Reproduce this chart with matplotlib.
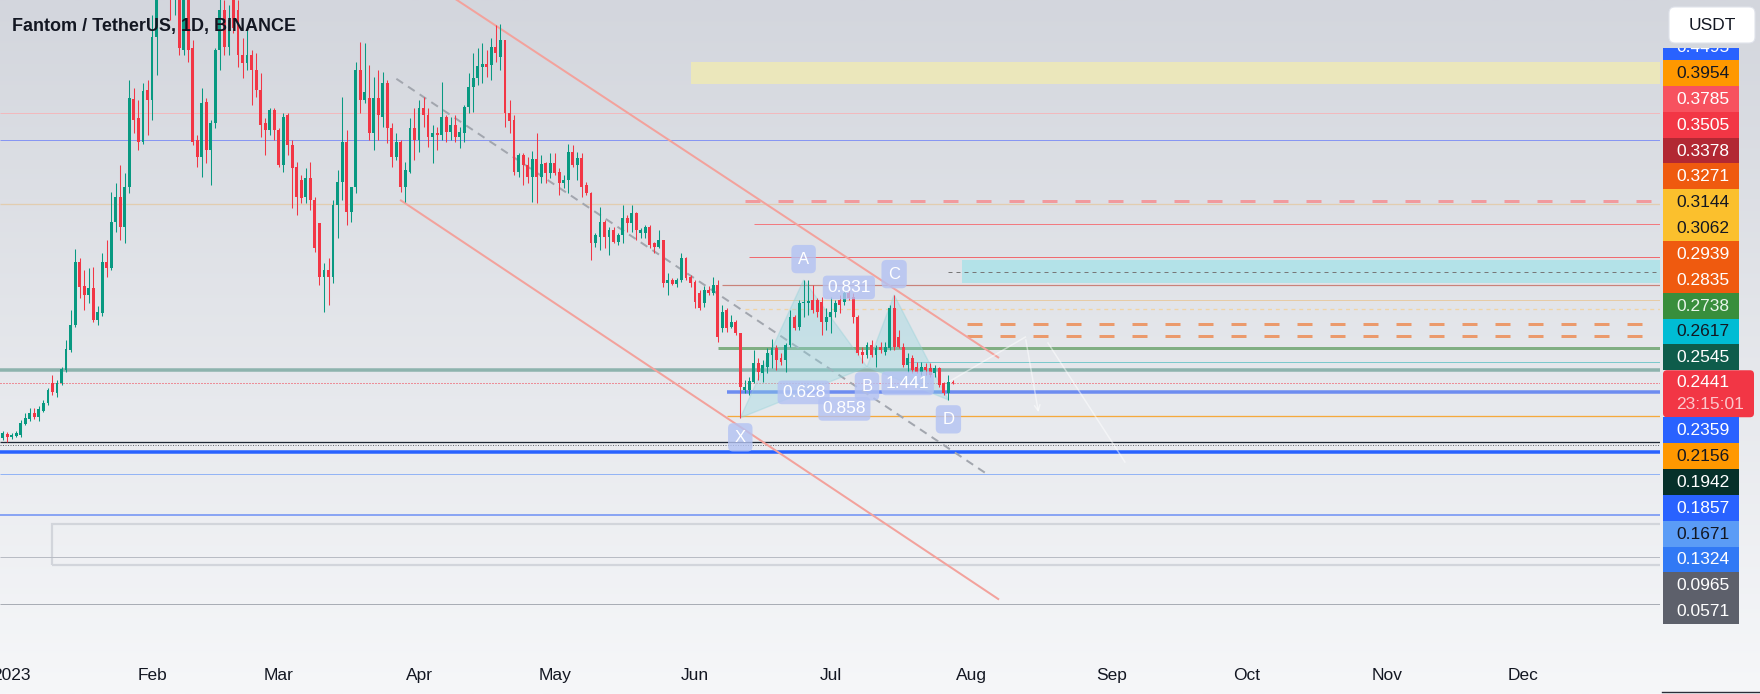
import matplotlib
matplotlib.use("Agg")
import matplotlib.pyplot as plt
import matplotlib.dates as mdates
import numpy as np
import pandas as pd
from matplotlib.colors import LinearSegmentedColormap
from matplotlib.patches import Rectangle, FancyBboxPatch, Polygon

plt.rcParams['font.family'] = ['Liberation Sans', 'DejaVu Sans']

# daily candles FTM/USDT, first candle 2022-12-30
opens = [.1975, .2009, .1984, .1992, .2001, .2093, .2136, .2187, .2153, .2204,
         .2271, .2440, .2356, .2440, .2550, .2719, .2930, .3462, .3259, .3183,
         .3242, .2972, .3032, .3462, .3412, .3800, .4011, .3758, .4096, .4839,
         .4679, .4476, .4916, .4831, .5363, .5845, .6183, .5930, .5761, .5761,
         .5254, .5718, .5271, .4493, .4349, .4814, .4409, .4637, .5254, .5592,
         .5279, .5676, .5592, .5211, .5144, .5211, .5085, .4916, .4637, .4578,
         .4747, .4578, .4282, .4704, .4451, .4265, .4155, .4011, .4172, .3986,
         .3792, .3335, .3395, .3335, .3944, .4138, .4476, .3885, .4096, .5085,
         .4831, .4848, .4552, .4848, .4688, .4975, .4594, .4349, .4476, .4096,
         .4223, .4594, .4493, .4764, .4704, .4518, .4552, .4535, .4688, .4561,
         .4620, .4518, .4552, .4772, .4941, .5017, .5110, .5135, .5127, .5279,
         .5194, .5338, .4721, .4662, .4223, .4366, .4282, .4180, .4332, .4180,
         .4299, .4215, .4299, .4223, .4130, .4155, .4392, .4282, .4341, .4113,
         .4046, .3623, .3674, .3800, .3674, .3733, .3631, .3690, .3834, .3792,
         .3876, .3707, .3707, .3758, .3623, .3589, .3648, .3285, .3310, .3276,
         .3310, .3496, .3335, .3293, .3200, .3116, .3226, .3200, .3268, .2904,
         .3057, .2913, .2955, .2862, .2381, .2381, .2449, .2609, .2525, .2575,
         .2677, .2736, .2651, .2634, .2761, .2998, .2913, .3116, .3116, .3141,
         .3141, .3124, .2955, .2998, .3040, .3141, .3124, .3200, .3166, .2998,
         .2702, .2677, .2761, .2677, .2744, .2702, .2736, .3074, .2828, .2744,
         .2592, .2651, .2575, .2533, .2575, .2567, .2525, .2567, .2440, .2356,
         .2449]
highs = [.2035, .2026, .2018, .2035, .2127, .2187, .2229, .2229, .2245, .2296,
         .2398, .2508, .2465, .2575, .2803, .3057, .3572, .3496, .3395, .3412,
         .3420, .3091, .3538, .3648, .4054, .4130, .4282, .4215, .5000, .4933,
         .4831, .4975, .5000, .5549, .6014, .6437, .6521, .6099, .6183, .5930,
         .5845, .5803, .5338, .4535, .4933, .4848, .4662, .5271, .5718, .5676,
         .5634, .5718, .5676, .5355, .5423, .5254, .5228, .5059, .4679, .4764,
         .4764, .4594, .4721, .4721, .4493, .4307, .4197, .4257, .4307, .4011,
         .3792, .3454, .3496, .3986, .4240, .4856, .4578, .4096, .5152, .5321,
         .5313, .5127, .5025, .5085, .5068, .5000, .4637, .4552, .4493, .4307,
         .4679, .4764, .4831, .4856, .4764, .4620, .4603, .4983, .4704, .4688,
         .4704, .4603, .4789, .5059, .5228, .5271, .5313, .5254, .5355, .5465,
         .5473, .5338, .4831, .4704, .4383, .4383, .4349, .4400, .4552, .4366,
         .4307, .4383, .4383, .4257, .4197, .4459, .4451, .4392, .4383, .4138,
         .4054, .3707, .3927, .3817, .3758, .3758, .3707, .3944, .3859, .3944,
         .3885, .3750, .3775, .3775, .3631, .3733, .3648, .3369, .3327, .3327,
         .3538, .3504, .3352, .3310, .3226, .3259, .3259, .3335, .3310, .3099,
         .3074, .3014, .2972, .2862, .2465, .2491, .2719, .2651, .2634, .2736,
         .2812, .2761, .2694, .2778, .3057, .3014, .3141, .3310, .3310, .3268,
         .3158, .3166, .3074, .3166, .3141, .3183, .3226, .3226, .3200, .3014,
         .2744, .2786, .2803, .2761, .2786, .2786, .3099, .3183, .2888, .2778,
         .2694, .2677, .2617, .2617, .2609, .2609, .2592, .2575, .2449, .2508,
         .2465]
lows = [.1958, .1941, .1967, .1984, .1984, .2085, .2119, .2136, .2119, .2195,
        .2254, .2339, .2322, .2423, .2533, .2702, .2913, .3158, .3057, .3116,
        .2955, .2930, .3006, .3335, .3395, .3716, .3648, .3623, .4046, .4553,
        .4409, .4459, .4535, .4662, .5042, .5761, .5761, .5507, .5549, .5211,
        .5211, .5152, .4451, .4265, .4180, .4299, .4113, .4594, .5085, .5211,
        .5211, .5397, .5110, .5017, .5085, .4789, .4856, .4518, .4366, .4535,
        .4493, .4265, .4223, .4366, .3919, .3859, .3961, .3961, .3902, .3547,
        .3268, .3040, .3099, .3285, .3665, .3986, .3775, .3800, .4046, .4721,
        .4806, .4493, .4409, .4493, .4603, .4468, .4265, .4324, .4054, .3969,
        .4215, .4324, .4392, .4603, .4434, .4299, .4409, .4493, .4476, .4493,
        .4476, .4426, .4476, .4721, .4730, .4958, .4975, .5025, .5000, .5152,
        .5085, .4603, .4552, .4197, .4180, .4113, .4130, .3969, .3961, .4130,
        .4130, .4172, .4197, .4028, .4088, .4046, .4265, .4155, .4011, .4028,
        .3479, .3589, .3564, .3581, .3521, .3623, .3606, .3623, .3716, .3716,
        .3648, .3665, .3665, .3581, .3538, .3581, .3251, .3183, .3268, .3251,
        .3293, .3310, .3251, .3074, .3057, .3082, .3183, .3183, .2786, .2871,
        .2871, .2904, .2845, .2144, .2356, .2339, .2440, .2465, .2449, .2525,
        .2567, .2550, .2592, .2533, .2744, .2888, .2888, .2998, .3014, .3032,
        .2998, .2845, .2888, .2862, .2998, .3032, .3099, .3141, .2947, .2677,
        .2609, .2651, .2660, .2575, .2694, .2677, .2719, .2719, .2736, .2575,
        .2533, .2525, .2525, .2508, .2508, .2491, .2491, .2406, .2339, .2296,
        .2432]
closes = [.2018, .1984, .2001, .2018, .2102, .2144, .2187, .2153, .2220, .2271,
          .2381, .2364, .2440, .2558, .2727, .2930, .3462, .3251, .3183, .3242,
          .2972, .3040, .3462, .3412, .3800, .4011, .3758, .4096, .4848, .4662,
          .4476, .4907, .4831, .5363, .5845, .6183, .5930, .5761, .6014, .5271,
          .5718, .5254, .4476, .4349, .4806, .4409, .4637, .5254, .5592, .5279,
          .5507, .5440, .5211, .5144, .5211, .5085, .4916, .4620, .4578, .4747,
          .4578, .4282, .4688, .4451, .4257, .4011, .4003, .4172, .3986, .3581,
          .3335, .3395, .3335, .3944, .4138, .4476, .3885, .4096, .5085, .4831,
          .4899, .4552, .4848, .4704, .4975, .4594, .4349, .4476, .4096, .4240,
          .4594, .4493, .4764, .4704, .4518, .4552, .4535, .4688, .4561, .4620,
          .4518, .4561, .4772, .4941, .5017, .5118, .5135, .5110, .5279, .5228,
          .5338, .4721, .4654, .4223, .4366, .4282, .4180, .4332, .4180, .4290,
          .4215, .4299, .4215, .4130, .4155, .4392, .4282, .4341, .4096, .4046,
          .3623, .3690, .3800, .3674, .3733, .3631, .3690, .3834, .3792, .3876,
          .3733, .3733, .3758, .3606, .3589, .3648, .3285, .3310, .3276, .3310,
          .3496, .3327, .3285, .3124, .3074, .3226, .3200, .3268, .2828, .3040,
          .2904, .2955, .2862, .2406, .2406, .2457, .2609, .2533, .2592, .2694,
          .2736, .2634, .2617, .2761, .2998, .2904, .3116, .3124, .3133, .3057,
          .3040, .2955, .2998, .3040, .3116, .3099, .3200, .3158, .2998, .2694,
          .2677, .2761, .2677, .2736, .2719, .2744, .3074, .2744, .2744, .2592,
          .2651, .2550, .2533, .2575, .2550, .2508, .2567, .2423, .2356, .2449,
          .2441]
days = pd.date_range('2022-12-30', periods=len(opens), freq='D')

month_ticks = pd.date_range('2023-01-01', '2023-12-01', freq='MS')
month_labels = ['2023', 'Feb', 'Mar', 'Apr', 'May', 'Jun', 'Jul', 'Aug',
                'Sep', 'Oct', 'Nov', 'Dec']

# drawn levels: price, start day (None = whole width)
solid_levels = [
    (0.4721, None, '#f1b9bd', 1.0),
    (0.4495, None, '#8796f2', 1.0),
    (0.3954, None, '#e2cdb0', 1.3),
    (0.3785, '2023-06-14', '#f27a80', 1.0),
    (0.3505, '2023-06-13', '#f06a70', 1.0),
    (0.3271, '2023-06-07', '#c9827a', 1.2),
    (0.3144, '2023-06-10', '#e6cba6', 1.0),
    (0.2738, '2023-06-06', '#80ae82', 3.0),
    (0.2617, '2023-07-18', '#7cc9cc', 1.0),
    (0.2545, None, '#8db3ad', 3.5),
    (0.2359, '2023-06-08', '#6d8cf0', 3.5),
    (0.2156, '2023-06-08', '#f5a93c', 1.3),
    (0.1942, None, '#1f2937', 1.3),
    (0.1857, None, '#2962ff', 3.5),
    (0.1671, None, '#93b4f5', 1.0),
    (0.1324, None, '#8aa5f3', 2.0),
    (0.0965, None, '#b8bcc4', 1.0),
    (0.0571, None, '#a9adb5', 1.0),
]
dashed_levels = [
    (0.3975, '2023-06-12', '#f19a9e', 3.0, (0, (5, 6))),
    (0.3062, '2023-06-12', '#f1d4a4', 1.3, (0, (3, 3))),
    (0.3378, '2023-07-27', '#777777', 1.0, (0, (4, 4))),
    (0.2939, '2023-07-31', '#eb9a6c', 3.0, (0, (5, 6))),
    (0.2835, '2023-07-31', '#eb9a6c', 3.0, (0, (5, 6))),
    (0.2441, None, '#f23645', 1.0, (0, (1, 2))),
    (0.1914, None, '#6b6f78', 1.0, (0, (1, 1.5))),
]
yellow_zone = ('2023-05-31', 0.497, 0.515)
teal_zone = ('2023-07-30', 0.3284, 0.3478)
gray_box = ('2023-01-10', 0.0900, 0.1247)

channel_top = (['2023-04-07', '2023-08-07'], [0.5736, 0.2655])
channel_bottom = (['2023-03-28', '2023-08-07'], [0.3982, 0.0613])
mid_dashed = (['2023-03-27', '2023-08-05'], [0.5010, 0.1657])

pattern_names = ['X', 'A', 'B', 'C', 'D']
pattern_days = ['2023-06-11', '2023-06-25', '2023-07-09', '2023-07-15', '2023-07-27']
pattern_prices = [0.2144, 0.3310, 0.2575, 0.3183, 0.2296]
ratio_pairs = [('X', 'B', '0.628'), ('A', 'C', '0.831'),
               ('X', 'D', '0.858'), ('B', 'D', '1.441')]

proj_path = (['2023-07-27', '2023-08-13', '2023-08-16'], [0.2447, 0.2827, 0.2168])
proj_line = (['2023-08-18', '2023-09-04'], [0.2777, 0.1771])

scale_labels = ['0.4495', '0.3954', '0.3785', '0.3505', '0.3378', '0.3271',
                '0.3144', '0.3062', '0.2939', '0.2835', '0.2738', '0.2617',
                '0.2545', '0.2441', '0.2359', '0.2156', '0.1942', '0.1857',
                '0.1671', '0.1324', '0.0965', '0.0571']
scale_bg = ['#2962ff', '#ff9800', '#f7525f', '#f23645', '#b22833', '#ef5a0f',
            '#fbc02d', '#fbc02d', '#ef5a0f', '#ef5a0f', '#388e3c', '#00bcd4',
            '#0e5c4b', '#f23645', '#2962ff', '#ff9800', '#06302a', '#2962ff',
            '#5b9cf6', '#3179f5', '#5d606b', '#5d606b']
scale_fg = ['white', '#131722', 'white', 'white', 'white', 'white',
            '#131722', '#131722', 'white', 'white', '#e8f5e9', '#131722',
            'white', 'white', 'white', '#131722', 'white', 'white',
            '#131722', 'white', 'white', 'white']
last_price = '0.2441'
countdown = '23:15:01'

GREEN = '#089981'
RED = '#f23645'
TXT = '#131722'

W, H = 1760, 694
fig = plt.figure(figsize=(W / 100, H / 100), dpi=100)

# background gradient
bg = fig.add_axes([0, 0, 1, 1])
grad = np.linspace(0, 1, 256).reshape(-1, 1)
cmap = LinearSegmentedColormap.from_list('bg', ['#d3d6dd', '#f6f7f9'])
bg.imshow(grad, aspect='auto', cmap=cmap, extent=[0, 1, 0, 1], origin='upper')
bg.axis('off')

ax = fig.add_axes([0, (H - 650) / H, 1660 / W, 650 / H])
ax.set_zorder(2)
ax.patch.set_visible(False)
d0 = mdates.date2num(pd.Timestamp('2022-12-30'))
ppd = 4.525
xl, xr = d0 - 2.7 / ppd, d0 + (1660 - 2.7) / ppd
ax.set_xlim(xl, xr)
ax.set_ylim(0.0182, 0.5676)
far = xr + 30


def dn(s):
    return mdates.date2num(pd.Timestamp(s))


# zones
for start, lo, hi, fc in [(yellow_zone[0], yellow_zone[1], yellow_zone[2], '#ebe7bb'),
                          (teal_zone[0], teal_zone[1], teal_zone[2], '#b3e2e8')]:
    ax.add_patch(Rectangle((dn(start), lo), far - dn(start), hi - lo,
                           fc=fc, ec='none', zorder=1))
ax.add_patch(Rectangle((dn(gray_box[0]), gray_box[1]), far - dn(gray_box[0]),
                       gray_box[2] - gray_box[1], fc='none', ec='#d2d5db',
                       lw=1.6, zorder=1))

for p, start, c, lw in solid_levels:
    x0 = xl if start is None else dn(start)
    ax.plot([x0, far], [p, p], color=c, lw=lw * 0.72, zorder=2,
            solid_capstyle='butt')
for p, start, c, lw, ls in dashed_levels:
    x0 = xl if start is None else dn(start)
    ax.plot([x0, far], [p, p], color=c, lw=lw * 0.72, ls=ls, zorder=2,
            dash_capstyle='butt')

# channel
for (dd, pp), c, ls, lw in [(channel_top, '#f3a29c', '-', 2.0),
                            (channel_bottom, '#f3a29c', '-', 2.0),
                            (mid_dashed, '#a2a6ae', (0, (4, 3)), 2.0)]:
    ax.plot([dn(d) for d in dd], pp, color=c, ls=ls, lw=lw * 0.72, zorder=2)

# harmonic pattern
px = {n: dn(d) for n, d in zip(pattern_names, pattern_days)}
py = dict(zip(pattern_names, pattern_prices))
for tri in [('X', 'A', 'B'), ('B', 'C', 'D')]:
    ax.add_patch(Polygon([(px[n], py[n]) for n in tri], closed=True,
                         fc='#8fd6df', ec='#8fd0d8', alpha=0.35, lw=1, zorder=2.5))
box_kw = dict(boxstyle='round,pad=0.25,rounding_size=0.25', fc='#b3c2f3',
              ec='none', alpha=0.8)
for a, b, txt in ratio_pairs:
    ax.text((px[a] + px[b]) / 2, (py[a] + py[b]) / 2, txt, color='white',
            fontsize=12.5, ha='center', va='center', bbox=box_kw, zorder=7)
for n in pattern_names:
    dy = 15 if n in ('A', 'C') else -14
    ax.annotate(n, (px[n], py[n]), xytext=(0, dy), textcoords='offset points',
                color='white', fontsize=12, ha='center', va='center',
                bbox=dict(boxstyle='round,pad=0.4,rounding_size=0.3',
                          fc='#b3c2f3', ec='none', alpha=0.8), zorder=7)

# projection sketch
ax.plot([dn(d) for d in proj_path[0][:2]], proj_path[1][:2], color='white',
        lw=1.1, alpha=0.5, zorder=2.6)
ax.annotate('', xy=(dn(proj_path[0][2]), proj_path[1][2]),
            xytext=(dn(proj_path[0][1]), proj_path[1][1]),
            arrowprops=dict(arrowstyle='->', color='white', lw=1.1, alpha=0.5),
            zorder=2.6)
ax.plot([dn(d) for d in proj_line[0]], proj_line[1], color='white', lw=1.1,
        alpha=0.5, zorder=2.6)

# candles
o = np.array(opens)
c = np.array(closes)
x = mdates.date2num(days)
cols = np.where(c >= o, GREEN, RED)
ax.vlines(x, lows, highs, colors=cols, lw=0.75, zorder=4)
ax.bar(x, np.maximum(np.abs(c - o), 0.0009), bottom=np.minimum(o, c),
       width=0.64, color=cols, lw=0, zorder=5)

for s in ax.spines.values():
    s.set_visible(False)
ax.set_yticks([])
ax.set_xticks(mdates.date2num(month_ticks))
ax.set_xticklabels(month_labels)
ax.tick_params(axis='x', length=0, pad=13, labelsize=12.5, labelcolor=TXT)

# price scale labels
lax = fig.add_axes([1660 / W, 0, 100 / W, (H - 48) / H])
lax.set_xlim(1660, 1760)
lax.set_ylim(H, 48)
lax.axis('off')
top = 34.2
for lab, bcol, fcol in zip(scale_labels, scale_bg, scale_fg):
    if lab == last_price:
        h = 47
        lax.add_patch(FancyBboxPatch((1663, top), 91, h,
                                     boxstyle='round,pad=0,rounding_size=4',
                                     fc=bcol, ec='none'))
        lax.text(1676, top + 12.5, lab, color=fcol, fontsize=12.5,
                 ha='left', va='center')
        lax.text(1676, top + 34, countdown, color='#fbc7cc', fontsize=12.5,
                 ha='left', va='center')
    else:
        h = 25.85
        lax.add_patch(Rectangle((1663, top), 76, h, fc=bcol, ec='none'))
        lax.text(1676, top + h / 2 + 0.5, lab, color=fcol, fontsize=12.5,
                 ha='left', va='center', clip_on=True)
    top += h

ov = fig.add_axes([0, 0, 1, 1])
ov.set_xlim(0, W)
ov.set_ylim(H, 0)
ov.axis('off')
ov.set_zorder(5)
ov.add_patch(FancyBboxPatch((1669, 7), 86, 36,
                            boxstyle='round,pad=0,rounding_size=6',
                            fc='white', ec='#e0e3eb', lw=0.8))
ov.text(1712, 25.5, 'USDT', color=TXT, fontsize=12.5, ha='center', va='center')
ov.plot([1662, 1760], [692, 692], color='#2a2e39', lw=1)
ov.text(12, 30.5, 'Fantom / TetherUS, 1D, BINANCE', color=TXT, fontsize=13,
        fontweight='bold', ha='left', va='baseline')

fig.savefig('out.png', dpi=100)
